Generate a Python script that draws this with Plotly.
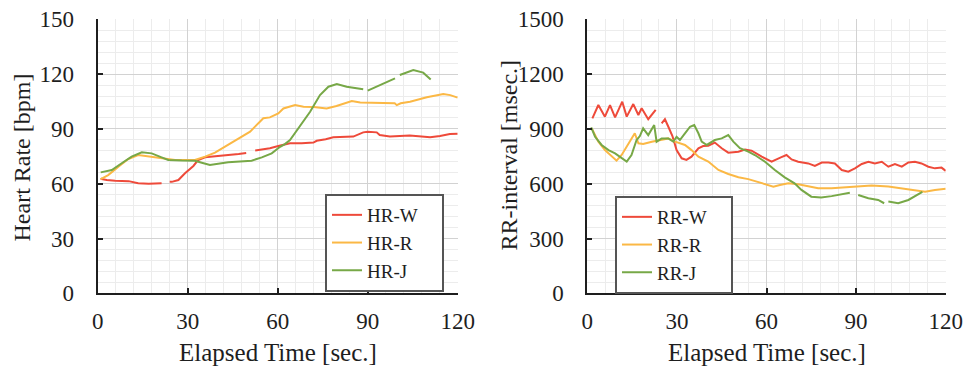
import plotly.graph_objects as go

# ---------------- data ----------------
HR_W_t = [1.0, 1.3, 3.0, 5.8, 10.3, 13.5, 17.0, 21.3, 22.4, 24.0, 24.7, 26.9, 29.1, 31.9, 33.5, 35.8, 40.0, 43.5, 47.0, 49.5, 51.0, 52.5, 54.7, 57.4, 60.2, 64.1, 68.0, 71.9, 73.0, 76.0, 78.5, 82.0, 85.2, 88.5, 90.0, 93.0, 94.0, 97.4, 100.0, 101.9, 104.0, 107.0, 110.8, 114.1, 117.4, 120.0]
HR_W = [63.0, 62.6, 62.0, 61.6, 61.4, 60.2, 60.0, 60.2, None, 61.0, 61.0, 62.0, 65.7, 69.7, 73.0, 74.5, 75.3, 75.7, 76.2, 76.8, None, 78.2, 78.8, 79.4, 80.6, 82.1, 82.2, 82.5, 83.5, 84.3, 85.4, 85.6, 85.8, 88.1, 88.5, 88.1, 86.6, 85.8, 86.0, 86.1, 86.4, 86.0, 85.4, 86.1, 87.2, 87.4]

HR_R_t = [1.0, 3.5, 6.9, 10.2, 13.5, 16.9, 21.3, 25.8, 32.4, 35.8, 39.1, 43.5, 48.0, 50.8, 55.2, 57.4, 60.2, 61.9, 65.8, 68.6, 72.0, 76.3, 79.6, 84.7, 87.5, 93.0, 99.0, 99.7, 101.0, 104.1, 109.7, 115.2, 117.5, 120.0]
HR_R = [62.5, 64.7, 69.3, 73.5, 75.7, 75.0, 74.2, 73.0, 73.0, 74.8, 77.0, 81.2, 85.7, 88.5, 95.8, 96.3, 98.5, 101.2, 103.1, 102.1, 102.0, 101.2, 102.5, 105.3, 104.4, 104.2, 104.0, 103.0, 104.0, 104.9, 107.3, 109.1, 108.5, 107.1]

HR_J_t = [1.0, 4.7, 8.0, 11.3, 14.7, 18.0, 21.3, 23.5, 28.0, 32.4, 34.7, 37.4, 43.5, 51.3, 54.7, 58.0, 60.8, 62.4, 64.1, 67.4, 70.8, 74.1, 76.9, 79.7, 83.0, 88.5, 89.2, 90.0, 95.2, 99.1, 99.9, 100.7, 105.2, 108.5, 111.0]
HR_J = [66.2, 67.5, 71.2, 74.8, 77.2, 76.6, 74.4, 73.0, 72.7, 72.6, 71.5, 70.2, 71.7, 72.6, 74.4, 76.6, 80.2, 81.7, 83.9, 91.2, 99.4, 108.5, 113.1, 114.6, 113.1, 111.7, None, 111.0, 114.6, 117.7, None, 119.5, 122.2, 120.8, 117.1]

RR_W_t = [1.7, 3.7, 5.9, 7.6, 9.3, 11.7, 13.2, 15.4, 17.1, 18.2, 20.4, 22.9, 24.0,
          24.9, 26.0, 27.1, 28.5, 29.9, 31.6, 33.2, 34.9, 37.2, 38.8, 40.5, 42.7, 45.0, 47.2, 50.6, 52.8, 55.0, 58.4, 61.7, 62.8,
          65.0, 66.7, 68.4, 70.6, 74.0, 76.2, 78.5, 80.7, 82.9, 85.2, 87.4, 89.6, 91.9, 94.1, 96.3, 98.6, 100.8, 103.0, 105.3,
          107.5, 109.7, 111.9, 114.2, 116.4, 118.6, 120.0]
RR_W = [958, 1031, 967, 1030, 963, 1049, 967, 1036, 976, 1013, 953, 1004, None,
        930, 953, 913, 861, 784, 739, 730, 748, 794, 806, 808, 825, 794, 770, 775, 787, 781, 748, 721, 730,
        745, 757, 733, 720, 711, 697, 716, 716, 711, 675, 666, 684, 708, 720, 711, 720, 693, 708, 693,
        716, 720, 711, 693, 684, 688, 670]

RR_R_t = [1.5, 3.7, 5.9, 8.2, 9.8, 11.5, 13.2, 14.8, 15.9, 17.1, 18.7, 21.6, 24.9, 27.1, 29.4, 32.7, 34.9, 37.2, 40.5, 43.9,
          47.2, 50.6, 53.9, 56.7, 60.1, 62.3, 64.5, 67.3, 70.6, 74.0, 77.3, 81.8, 88.5, 95.2, 100.8, 105.3, 109.7, 113.1, 116.4, 120.0]
RR_R = [903, 830, 784, 748, 726, 757, 803, 848, 876, 821, 817, 830, 839, 848, 830, 812, 784, 748, 721, 675,
        653, 635, 625, 611, 593, 584, 593, 602, 597, 587, 575, 575, 584, 590, 585, 575, 562, 556, 566, 572]

RR_J_t = [1.3, 2.6, 4.8, 7.1, 9.3, 11.5, 13.2, 14.8, 16.5, 17.6, 18.7, 20.4, 22.4, 23.2, 24.9, 27.1, 28.8, 29.9, 31.0, 32.7,
          34.4, 35.8, 37.2, 38.3, 40.0, 42.7, 45.0, 47.2, 48.9, 51.1, 53.9, 56.1, 59.5, 62.8, 66.1, 69.4, 71.7, 75.0, 78.3, 81.8,
          85.2, 87.9, 89.3, 90.7, 94.1, 97.4, 99.4, 100.1, 100.8, 104.1, 107.5, 109.7, 111.4, 112.2]
RR_J = [909, 857, 812, 784, 766, 739, 721, 757, 839, 861, 903, 866, 921, 830, 848, 848, 830, 857, 839, 876,
        912, 921, 876, 830, 812, 839, 848, 866, 830, 794, 776, 757, 720, 675, 635, 602, 566, 529, 525, 532,
        543, 550, None, 538, 520, 511, 493, None, 502, 493, 511, 532, 550, 555]

HR_names = ["HR-W", "HR-R", "HR-J"]
RR_names = ["RR-W", "RR-R", "RR-J"]
HR_ticks = [0, 30, 60, 90, 120, 150]
RR_ticks = [0, 300, 600, 900, 1200, 1500]
T_ticks = [0, 30, 60, 90, 120]

# ---------------- style ----------------
COLORS = ["#ee4a3a", "#fbb845", "#77a847"]
FONT = "Liberation Serif, Times New Roman, serif"
TXT = "#1e1e1e"
OFF = 8                       # page body margin
W, H = 971 - OFF, 369 - OFF
PAD = "\u2002\u2002"          # trailing space to widen legend box


def px(x):
    return (x - OFF) / W


def py(y):
    return 1 - (y - OFF) / H


fig = go.Figure()
for name, t, v, c in zip(HR_names, [HR_W_t, HR_R_t, HR_J_t], [HR_W, HR_R, HR_J], COLORS):
    fig.add_trace(go.Scatter(x=t, y=v, name=name + PAD, mode="lines", line=dict(color=c, width=2),
                             xaxis="x", yaxis="y", legend="legend", connectgaps=False))
for name, t, v, c in zip(RR_names, [RR_W_t, RR_R_t, RR_J_t], [RR_W, RR_R, RR_J], COLORS):
    fig.add_trace(go.Scatter(x=t, y=v, name=name + PAD, mode="lines", line=dict(color=c, width=2),
                             xaxis="x2", yaxis="y2", legend="legend2", connectgaps=False))

ydom = [py(293.3), py(19.3)]
common_ax = dict(showline=True, linecolor=TXT, linewidth=2, ticks="inside", ticklen=5, tickwidth=1.5,
                 tickcolor=TXT, showgrid=True, gridcolor="#d2d2d2", gridwidth=1, zeroline=False,
                 tickfont=dict(family=FONT, size=23, color=TXT), automargin=False,
                 ticklabeloverflow="allow")

leg_common = dict(xanchor="left", yanchor="top", bgcolor="white", bordercolor="#555555", borderwidth=2,
                  font=dict(family=FONT, size=19, color=TXT), tracegroupgap=0, itemwidth=30)

fig.update_layout(
    width=W, height=H,
    margin=dict(l=0, r=0, t=0, b=0),
    paper_bgcolor="white", plot_bgcolor="white",
    showlegend=True,
    xaxis=dict(domain=[px(97.7), px(457.7)], range=[0, 120], tickvals=T_ticks, anchor="y",
               minor=dict(dtick=6, showgrid=True, gridcolor="#ececec", ticks=""),
               ticklabelstandoff=6, **common_ax),
    yaxis=dict(domain=ydom, range=[0, 150], tickvals=HR_ticks, anchor="x",
               minor=dict(dtick=6, showgrid=True, gridcolor="#ececec", ticks=""),
               ticklabelstandoff=17, **common_ax),
    xaxis2=dict(domain=[px(587.3), px(945.7)], range=[0, 120], tickvals=T_ticks, anchor="y2",
                minor=dict(dtick=6, showgrid=True, gridcolor="#ececec", ticks=""),
                ticklabelstandoff=6, **common_ax),
    yaxis2=dict(domain=ydom, range=[0, 1500], tickvals=RR_ticks, anchor="x2",
                minor=dict(dtick=60, showgrid=True, gridcolor="#ececec", ticks=""),
                ticklabelstandoff=17, **common_ax),
    legend=dict(x=px(325), y=py(194), **leg_common),
    legend2=dict(x=px(615), y=py(196), **leg_common),
)

vfont = dict(family=FONT, size=24, color=TXT)
hfont = dict(family=FONT, size=25, color=TXT)
fig.add_annotation(text="Heart Rate [bpm]", x=px(22), y=py(157.5), xref="paper", yref="paper",
                   textangle=-90, showarrow=False, xanchor="center", yanchor="middle", font=vfont)
fig.add_annotation(text="RR-interval [msec.]", x=px(508.5), y=py(155), xref="paper", yref="paper",
                   textangle=-90, showarrow=False, xanchor="center", yanchor="middle", font=vfont)
fig.add_annotation(text="Elapsed Time [sec.]", x=px(277.7), y=py(352), xref="paper", yref="paper",
                   showarrow=False, xanchor="center", yanchor="middle", font=hfont)
fig.add_annotation(text="Elapsed Time [sec.]", x=px(766.5), y=py(352), xref="paper", yref="paper",
                   showarrow=False, xanchor="center", yanchor="middle", font=hfont)

fig.write_html("out.html")
